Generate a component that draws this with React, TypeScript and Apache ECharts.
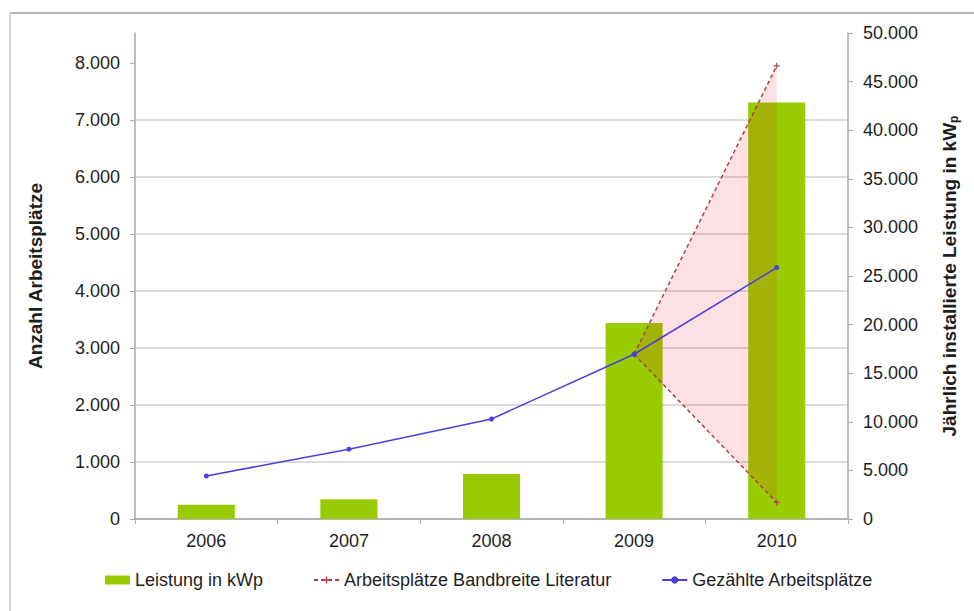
import React, { useEffect, useRef } from 'react';
import * as echarts from 'echarts';

const categories = ['2006', '2007', '2008', '2009', '2010'];
const leistungKWp = [1470, 2030, 4640, 20170, 42850];
const gezaehlteArbeitsplaetze = [755, 1225, 1755, 2890, 4410];
const bandbreiteUnten: (number | null)[] = [null, null, null, 2890, 290];
const bandbreiteOben: (number | null)[] = [null, null, null, 2890, 7950];
const leftTickValues = [0, 1000, 2000, 3000, 4000, 5000, 6000, 7000, 8000];

const NAME_BAR = 'Leistung in kWp';
const NAME_BAND = 'Arbeitsplätze Bandbreite Literatur';
const NAME_LINE = 'Gezählte Arbeitsplätze';

const FONT = '"Liberation Sans", Arial, sans-serif';
const TXT = '#1e1e1e';

const fmt = (n: number) => String(Math.round(n)).replace(/\B(?=(\d{3})+(?!\d))/g, '.');

const bandDiff = bandbreiteOben.map((v, i) => {
  const u = bandbreiteUnten[i];
  return v == null || u == null ? null : v - u;
});

export default function App() {
  const ref = useRef<HTMLDivElement>(null);
  useEffect(() => {
    if (!ref.current) return;
    const chart = echarts.init(ref.current, undefined, { renderer: 'svg' });
    const plusSymbol = 'path://M4,0H6V4H10V6H6V10H4V6H0V4H4Z';
    chart.setOption({
      animation: false,
      backgroundColor: '#ffffff',
      textStyle: { fontFamily: FONT, color: TXT },
      graphic: [
        { type: 'line', shape: { x1: 10, y1: 13, x2: 974, y2: 13 }, style: { stroke: '#9a9a9a', lineWidth: 1.5 } },
        { type: 'line', shape: { x1: 10, y1: 13, x2: 10, y2: 611 }, style: { stroke: '#c8c8c8', lineWidth: 1.5 } },
      ],
      grid: { left: 135, right: 126, top: 33, bottom: 92, containLabel: false },
      legend: {
        left: 100,
        top: 566,
        itemWidth: 25,
        itemHeight: 9,
        itemGap: 50,
        selectedMode: false,
        textStyle: { fontSize: 18, fontFamily: FONT, color: TXT },
        data: [
          { name: NAME_BAR, icon: 'rect' },
          { name: NAME_BAND },
          { name: NAME_LINE },
        ],
      },
      xAxis: {
        type: 'category',
        data: categories,
        boundaryGap: true,
        axisLine: { lineStyle: { color: '#a8a8a8', width: 1.5 } },
        axisTick: { show: true, alignWithLabel: false, length: 5, lineStyle: { color: '#a8a8a8' } },
        axisLabel: { fontSize: 18, color: TXT, fontFamily: FONT, margin: 13 },
      },
      yAxis: [
        {
          type: 'value',
          min: 0,
          max: 8526,
          interval: 1000,
          position: 'left',
          name: 'Anzahl Arbeitsplätze',
          nameLocation: 'middle',
          nameRotate: 90,
          nameGap: 90,
          nameTextStyle: { fontSize: 19, fontWeight: 'bold', color: TXT, fontFamily: FONT },
          axisLine: { show: true, lineStyle: { color: '#a8a8a8', width: 1.5 } },
          axisTick: { show: true, length: 5, customValues: leftTickValues, lineStyle: { color: '#a8a8a8' } },
          axisLabel: {
            fontSize: 18,
            color: TXT,
            fontFamily: FONT,
            margin: 15,
            customValues: leftTickValues,
            formatter: (v: number) => (v % 1000 === 0 ? fmt(v) : ''),
          },
          splitLine: { show: true, showMaxLine: false, lineStyle: { color: '#cfcfcf', width: 1.5 } },
        },
        {
          type: 'value',
          min: 0,
          max: 50000,
          interval: 5000,
          position: 'right',
          name: '{m|Jährlich installierte Leistung in kW}{s|p}',
          nameLocation: 'middle',
          nameRotate: 90,
          nameGap: 90,
          nameTextStyle: {
            rich: {
              m: { fontSize: 19, fontWeight: 'bold', color: TXT, fontFamily: FONT, lineHeight: 22 },
              s: { fontSize: 12, fontWeight: 'bold', color: TXT, fontFamily: FONT, lineHeight: 10, verticalAlign: 'bottom' },
            },
          },
          axisLine: { show: true, lineStyle: { color: '#a8a8a8', width: 1.5 } },
          axisTick: { show: true, length: 5, lineStyle: { color: '#a8a8a8' } },
          axisLabel: { fontSize: 18, color: TXT, fontFamily: FONT, margin: 15, formatter: (v: number) => fmt(v) },
          splitLine: { show: false },
        },
      ],
      series: [
        {
          name: NAME_BAR,
          type: 'bar',
          yAxisIndex: 1,
          data: leistungKWp,
          barWidth: '40%',
          itemStyle: { color: '#99cc00' },
          z: 2,
        },
        {
          name: NAME_BAND,
          type: 'line',
          yAxisIndex: 0,
          stack: 'band',
          data: bandbreiteUnten,
          symbol: plusSymbol,
          symbolSize: 6,
          showSymbol: true,
          itemStyle: { color: '#b0404a' },
          lineStyle: { color: '#a8404a', width: 1.5, type: [4, 3] },
          z: 3,
        },
        {
          name: NAME_BAND,
          type: 'line',
          yAxisIndex: 0,
          stack: 'band',
          data: bandDiff,
          symbol: plusSymbol,
          symbolSize: 6,
          itemStyle: { color: '#b0404a' },
          lineStyle: { color: '#a8404a', width: 1.5, type: [4, 3] },
          areaStyle: { color: 'rgba(235,10,50,0.18)' },
          z: 3,
        },
        {
          name: NAME_LINE,
          type: 'line',
          yAxisIndex: 0,
          data: gezaehlteArbeitsplaetze,
          symbol: 'circle',
          symbolSize: 5,
          itemStyle: { color: '#4a3fdc' },
          lineStyle: { color: '#4a3fdc', width: 1.5 },
          z: 4,
        },
      ],
    });
    return () => chart.dispose();
  }, []);
  return (
    <div
      ref={ref}
      style={{ position: 'absolute', left: 0, top: 0, width: 974, height: 611 }}
    />
  );
}
